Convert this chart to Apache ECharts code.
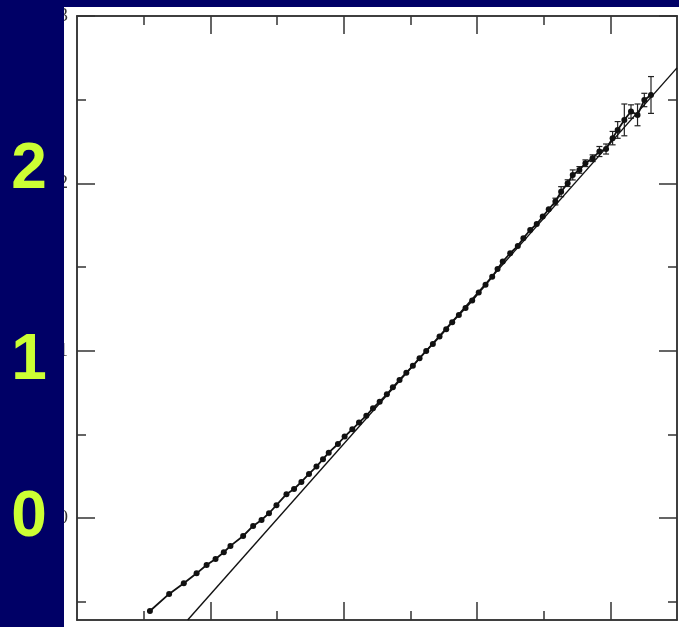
<!DOCTYPE html>
<html>
<head>
    <meta charset="utf-8">
    <title>chart</title>
    <script src="https://cdn.jsdelivr.net/npm/echarts@6/dist/echarts.min.js"></script>
    <style>
        html, body { margin: 0; padding: 0; background: #000066; }
        #main { width: 679px; height: 627px; }
    </style>
</head>
<body>
<div id="main"></div>
<script type="text/javascript">
    // measured points
    var curveX = [-0.453, -0.309, -0.199, -0.103, -0.028, 0.039, 0.101, 0.151, 0.246, 0.321,
        0.384, 0.440, 0.496, 0.571, 0.628, 0.683, 0.740, 0.796, 0.845, 0.888,
        0.957, 1.007, 1.065, 1.115, 1.170, 1.220, 1.270, 1.324, 1.369, 1.419,
        1.470, 1.519, 1.569, 1.619, 1.669, 1.719, 1.769, 1.814, 1.864, 1.914,
        1.964, 2.013, 2.064, 2.114, 2.154, 2.193, 2.249, 2.306, 2.348, 2.399,
        2.448, 2.493, 2.538, 2.588, 2.631, 2.680, 2.718, 2.768, 2.813, 2.867,
        2.918, 2.968, 3.017, 3.055, 3.105, 3.155, 3.204, 3.255, 3.305];
    var curveY = [-0.556, -0.454, -0.390, -0.331, -0.281, -0.245, -0.205, -0.167, -0.108, -0.048,
        -0.012, 0.028, 0.076, 0.142, 0.173, 0.215, 0.263, 0.307, 0.351, 0.390,
        0.442, 0.486, 0.530, 0.570, 0.611, 0.656, 0.695, 0.739, 0.781, 0.825,
        0.868, 0.909, 0.955, 0.998, 1.040, 1.084, 1.128, 1.170, 1.213, 1.255,
        1.299, 1.347, 1.393, 1.442, 1.488, 1.532, 1.582, 1.626, 1.672, 1.721,
        1.757, 1.801, 1.845, 1.891, 1.950, 2.001, 2.050, 2.080, 2.120, 2.150,
        2.190, 2.205, 2.270, 2.319, 2.379, 2.429, 2.409, 2.498, 2.528];

    // error bars on the upper points (half length)
    var errX = [2.588, 2.631, 2.680, 2.718, 2.768, 2.813, 2.867, 2.918, 2.968, 3.017, 3.055, 3.105, 3.155, 3.204, 3.255, 3.305];
    var errY = [1.891, 1.950, 2.001, 2.050, 2.080, 2.120, 2.150, 2.190, 2.205, 2.270, 2.319, 2.379, 2.429, 2.409, 2.498, 2.528];
    var errSize = [0.02, 0.03, 0.02, 0.03, 0.02, 0.02, 0.02, 0.03, 0.03, 0.04, 0.05, 0.095, 0.04, 0.065, 0.04, 0.11];

    // straight fit line
    var lineX = [-0.17, 3.5];
    var lineY = [-0.61, 2.69];

    var majorTicks = [0, 1, 2, 3];
    var minorTicks = [-0.5, 0.5, 1.5, 2.5];
    var bigLabels = ['2', '1', '0'];

    var xMin = -1, xMax = 3.5, yMin = -0.61, yMax = 3;

    function tickAxis(position, min, max, values, len) {
        return {
            type: 'value',
            position: position,
            min: min,
            max: max,
            axisLine: {show: true, onZero: false, lineStyle: {color: '#333', width: 1.5}},
            axisTick: {show: true, inside: true, length: len, customValues: values,
                lineStyle: {color: '#333', width: 1.5}},
            axisLabel: {show: false},
            splitLine: {show: false}
        };
    }

    var yLeft = tickAxis('left', yMin, yMax, majorTicks, 18);
    yLeft.axisLabel = {show: true, customValues: majorTicks, margin: 9, fontSize: 19,
        color: '#333', fontFamily: 'Liberation Serif'};

    var myChart = echarts.init(document.getElementById('main'));

    myChart.setOption({
        backgroundColor: '#000066',
        animation: false,
        grid: {left: 77, right: 2, top: 16, bottom: 7},
        xAxis: [
            tickAxis('bottom', xMin, xMax, majorTicks, 18),
            tickAxis('bottom', xMin, xMax, minorTicks, 9),
            tickAxis('top', xMin, xMax, majorTicks, 18),
            tickAxis('top', xMin, xMax, minorTicks, 9)
        ],
        yAxis: [
            yLeft,
            tickAxis('left', yMin, yMax, minorTicks, 9),
            tickAxis('right', yMin, yMax, majorTicks, 18),
            tickAxis('right', yMin, yMax, minorTicks, 9)
        ],
        graphic: [
            {type: 'rect', z: -10, silent: true, shape: {x: 64, y: 7, width: 615, height: 620}, style: {fill: '#fff'}},
            {type: 'rect', z: 100, silent: true, shape: {x: 0, y: 0, width: 64, height: 627}, style: {fill: '#000066'}},
            {type: 'rect', z: 100, silent: true, shape: {x: 0, y: 0, width: 679, height: 7}, style: {fill: '#000066'}},
            {type: 'text', z: 101, x: 29, y: 170, style: {text: bigLabels[0], fill: '#ccff33', fontSize: 64, fontWeight: 'bold',
                fontFamily: 'Liberation Sans', align: 'center', verticalAlign: 'middle'}},
            {type: 'text', z: 101, x: 29, y: 361, style: {text: bigLabels[1], fill: '#ccff33', fontSize: 64, fontWeight: 'bold',
                fontFamily: 'Liberation Sans', align: 'center', verticalAlign: 'middle'}},
            {type: 'text', z: 101, x: 29, y: 518, style: {text: bigLabels[2], fill: '#ccff33', fontSize: 64, fontWeight: 'bold',
                fontFamily: 'Liberation Sans', align: 'center', verticalAlign: 'middle'}}
        ],
        series: [
            {
                type: 'line',
                data: lineX.map(function (x, i) { return [x, lineY[i]]; }),
                showSymbol: false,
                lineStyle: {color: '#111', width: 1.4}
            },
            {
                type: 'line',
                data: curveX.map(function (x, i) { return [x, curveY[i]]; }),
                symbol: 'circle',
                symbolSize: 6,
                itemStyle: {color: '#111'},
                lineStyle: {color: '#111', width: 1.8}
            },
            {
                type: 'custom',
                data: errX.map(function (x, i) { return [x, errY[i], errSize[i]]; }),
                renderItem: function (params, api) {
                    var x = api.value(0), y = api.value(1), e = api.value(2);
                    var top = api.coord([x, y + e]);
                    var bot = api.coord([x, y - e]);
                    var w = 3;
                    var st = {stroke: '#222', lineWidth: 1.2};
                    return {
                        type: 'group',
                        children: [
                            {type: 'line', shape: {x1: top[0], y1: top[1], x2: bot[0], y2: bot[1]}, style: st},
                            {type: 'line', shape: {x1: top[0] - w, y1: top[1], x2: top[0] + w, y2: top[1]}, style: st},
                            {type: 'line', shape: {x1: bot[0] - w, y1: bot[1], x2: bot[0] + w, y2: bot[1]}, style: st}
                        ]
                    };
                }
            }
        ]
    });
</script>
</body>
</html>
